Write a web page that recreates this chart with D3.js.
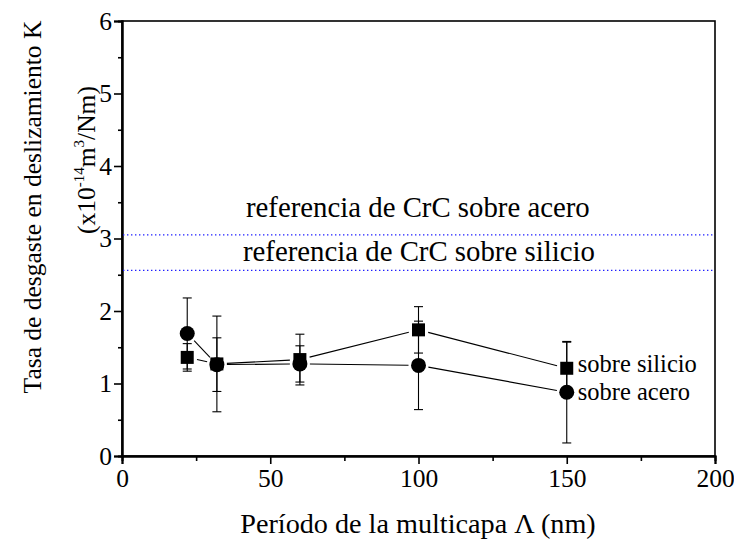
<!DOCTYPE html>
<html>
<head>
<meta charset="utf-8">
<script src="https://cdn.jsdelivr.net/npm/d3@7"></script>
<style>
  html, body { margin: 0; padding: 0; background: #fff; }
  svg { display: block; }
</style>
</head>
<body>
<svg id="chart" width="734" height="542"></svg>
<script>
// ---- data ----
const periods = [22, 32, 60, 100, 150];
const silicio = [1.36, 1.27, 1.33, 1.74, 1.21];
const silicioErr = [0.19, 0.66, 0.35, 0.32, 0.36];
const acero = [1.69, 1.26, 1.27, 1.25, 0.88];
const aceroErr = [0.49, 0.37, 0.25, 0.61, 0.70];
const refValues = [3.05, 2.56];
const refLabels = ["referencia de CrC sobre acero", "referencia de CrC sobre silicio"];
const xTicks = [0, 50, 100, 150, 200];
const xMinorTicks = [25, 75, 125, 175];
const yTicks = [0, 1, 2, 3, 4, 5, 6];
const yMinorTicks = [0.5, 1.5, 2.5, 3.5, 4.5, 5.5];
const seriesLabels = ["sobre silicio", "sobre acero"];
const xTitle = "Período de la multicapa Λ (nm)";
const yTitle1 = "Tasa de desgaste en deslizamiento K";

const FONT = '"Liberation Serif", "Times New Roman", Tinos, serif';

// ---- layout ----
const L = 122, R = 715, T = 21, B = 456;
const svg = d3.select("#chart");
svg.append("rect").attr("width", 734).attr("height", 542).attr("fill", "#fff");

const x = d3.scaleLinear().domain([0, 200]).range([L, R]);
const y = d3.scaleLinear().domain([0, 6]).range([B, T]);

// frame
svg.append("rect").attr("x", L).attr("y", T).attr("width", R - L).attr("height", B - T)
  .attr("fill", "none").attr("stroke", "#000").attr("stroke-width", 1.6);

// axes
const xAxis = svg.append("g").attr("transform", `translate(0,${B})`)
  .call(d3.axisBottom(x).tickValues(xTicks).tickSize(8).tickPadding(5).tickFormat(d3.format("d")));
const xMinor = svg.append("g").attr("transform", `translate(0,${B})`)
  .call(d3.axisBottom(x).tickValues(xMinorTicks).tickSize(5).tickFormat(""));
const yAxis = svg.append("g").attr("transform", `translate(${L},0)`)
  .call(d3.axisLeft(y).tickValues(yTicks).tickSize(8).tickPadding(2).tickFormat(d3.format("d")));
const yMinor = svg.append("g").attr("transform", `translate(${L},0)`)
  .call(d3.axisLeft(y).tickValues(yMinorTicks).tickSize(4).tickFormat(""));

[xAxis, xMinor, yAxis, yMinor].forEach(g => {
  g.attr("font-family", null);
  g.select(".domain").attr("stroke", "#000").attr("stroke-width", 2);
  g.selectAll(".tick line").attr("stroke", "#000").attr("stroke-width", 1.6);
  g.selectAll("text").style("font-family", FONT).style("font-size", "25.5px").attr("fill", "#000");
});

// reference lines
svg.selectAll("line.ref").data(refValues).enter().append("line")
  .attr("class", "ref")
  .attr("x1", L + 1).attr("x2", R - 1)
  .attr("y1", d => y(d)).attr("y2", d => y(d))
  .attr("stroke", "#1f1fff").attr("stroke-width", 1.3)
  .attr("stroke-dasharray", "1.4 2.6");

svg.selectAll("text.reflabel").data(refLabels).enter().append("text")
  .attr("class", "reflabel")
  .attr("x", (d, i) => i === 0 ? 246 : 243)
  .attr("y", (d, i) => y(refValues[i]) - (i === 0 ? 18 : 9))
  .style("font-family", FONT).style("font-size", "28.8px")
  .text(d => d);

// series
const series = [
  { vals: silicio, err: silicioErr, marker: "square" },
  { vals: acero, err: aceroErr, marker: "circle" }
];

const gap = 10;
series.forEach(s => {
  const pts = periods.map((p, i) => [x(p), y(s.vals[i])]);
  for (let i = 0; i < pts.length - 1; i++) {
    const [x1, y1] = pts[i], [x2, y2] = pts[i + 1];
    const len = Math.hypot(x2 - x1, y2 - y1);
    if (len <= 2 * gap) continue;
    const ux = (x2 - x1) / len, uy = (y2 - y1) / len;
    svg.append("line")
      .attr("x1", x1 + ux * gap).attr("y1", y1 + uy * gap)
      .attr("x2", x2 - ux * gap).attr("y2", y2 - uy * gap)
      .attr("stroke", "#000").attr("stroke-width", 1.1);
  }
  periods.forEach((p, i) => {
    const cx = x(p), top = y(s.vals[i] + s.err[i]), bot = y(s.vals[i] - s.err[i]);
    const g = svg.append("g").attr("stroke", "#000").attr("stroke-width", 1.1);
    g.append("line").attr("x1", cx).attr("x2", cx).attr("y1", top).attr("y2", bot);
    g.append("line").attr("x1", cx - 4.5).attr("x2", cx + 4.5).attr("y1", top).attr("y2", top);
    g.append("line").attr("x1", cx - 4.5).attr("x2", cx + 4.5).attr("y1", bot).attr("y2", bot);
  });
});

series.forEach(s => {
  periods.forEach((p, i) => {
    const cx = x(p), cy = y(s.vals[i]);
    if (s.marker === "circle") {
      svg.append("circle").attr("cx", cx).attr("cy", cy).attr("r", 7.5).attr("fill", "#000");
    } else {
      svg.append("rect").attr("x", cx - 6.5).attr("y", cy - 6.5)
        .attr("width", 13).attr("height", 13).attr("fill", "#000");
    }
  });
});

// series labels
const lastIdx = periods.length - 1;
svg.append("text").attr("x", x(periods[lastIdx]) + 11).attr("y", y(silicio[lastIdx]) + 4)
  .style("font-family", FONT).style("font-size", "24.5px").text(seriesLabels[0]);
svg.append("text").attr("x", x(periods[lastIdx]) + 11).attr("y", y(acero[lastIdx]) + 8)
  .style("font-family", FONT).style("font-size", "24.5px").text(seriesLabels[1]);

// axis titles
svg.append("text").attr("x", (L + R) / 2 - 0.5).attr("y", 533).attr("text-anchor", "middle")
  .style("font-family", FONT).style("font-size", "28.2px").text(xTitle);

svg.append("text").attr("transform", "translate(41,207) rotate(-90)")
  .attr("text-anchor", "middle").style("font-family", FONT).style("font-size", "25.5px")
  .text(yTitle1);

const t2 = svg.append("text").attr("transform", "translate(95,160) rotate(-90)")
  .attr("text-anchor", "middle").style("font-family", FONT).style("font-size", "25.5px");
t2.append("tspan").text("(x10");
t2.append("tspan").style("font-size", "15px").attr("dy", -11).text("-14");
t2.append("tspan").attr("dy", 11).text("m");
t2.append("tspan").style("font-size", "15px").attr("dy", -11).text("3");
t2.append("tspan").attr("dy", 11).text("/Nm)");
</script>
</body>
</html>
